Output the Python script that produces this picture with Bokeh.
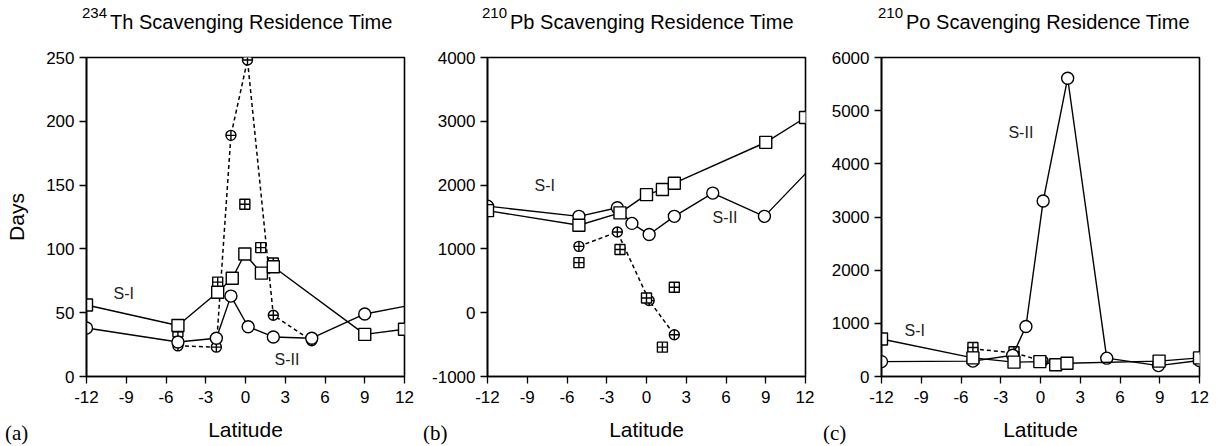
from bokeh.plotting import figure
from bokeh.layouts import row, column
from bokeh.models import FixedTicker, Range1d, Label, Div
from bokeh.embed import file_html
from bokeh.resources import INLINE

lat_ticks = [-12, -9, -6, -3, 0, 3, 6, 9, 12]

# ---- (a) 234Th ----
th_s1_lat = [-12, -5.1, -2.1, -1.0, -0.05, 1.2, 2.1, 9.0, 12]
th_s1 = [56, 40, 66, 77, 96, 81, 86, 33, 37]
th_s2_lat = [-12, -5.1, -2.2, -1.1, 0.2, 2.1, 5.0, 9.0, 12]
th_s2 = [38, 27, 30, 63, 39, 31, 30, 49, 55]
th_dash_lat = [-5.1, -2.2, -1.1, 0.15, 2.1, 5.0]
th_dash = [24, 23, 189, 248, 48, 28]
th_sq_lat = [-5.1, -2.1, -0.05, 1.15, 2.1]
th_sq = [35, 74, 135, 101, 89]
th_yticks = [0, 50, 100, 150, 200, 250]

# ---- (b) 210Pb ----
pb_s1_lat = [-12, -5.1, -2.0, 0.0, 1.2, 2.1, 9.0, 12]
pb_s1 = [1600, 1370, 1565, 1850, 1930, 2030, 2670, 3060]
pb_s2_lat = [-12, -5.1, -2.2, -1.1, 0.2, 2.1, 5.0, 8.9, 12]
pb_s2 = [1670, 1510, 1645, 1400, 1225, 1510, 1875, 1510, 2180]
pb_dash_lat = [-5.1, -2.2, 0.2, 2.1]
pb_dash = [1040, 1265, 190, -345]
pb_sq_lat = [-5.1, -2.0, 0.0, 1.2, 2.1]
pb_sq = [785, 990, 230, -540, 400]
pb_yticks = [-1000, 0, 1000, 2000, 3000, 4000]

# ---- (c) 210Po ----
po_s1_lat = [-12, -5.1, -2.0, -0.05, 1.15, 2.0, 8.95, 12]
po_s1 = [705, 350, 270, 280, 220, 250, 290, 350]
po_s2_lat = [-12, -5.1, -2.1, -1.1, 0.2, 2.05, 5.0, 8.9, 12]
po_s2 = [280, 290, 400, 940, 3300, 5610, 345, 205, 300]
po_dash_lat = [-5.1, -2.0, 0.2]
po_dash = [520, 445, 290]
po_sq_lat = [-5.1, -2.0, 1.2]
po_sq = [545, 465, 240]
po_yticks = [0, 1000, 2000, 3000, 4000, 5000, 6000]

titles = [("234", "Th Scavenging Residence Time"),
          ("210", "Pb Scavenging Residence Time"),
          ("210", "Po Scavenging Residence Time")]
panel_tags = ["(a)", "(b)", "(c)"]

FONT = "Liberation Sans"
TOP_H = 40


def make_panel(yr, yticks, left, right, ylabel):
    p = figure(frame_width=318, frame_height=319,
               min_border_left=left, min_border_right=right,
               min_border_top=57 - TOP_H, min_border_bottom=70,
               x_range=Range1d(-12, 12), y_range=Range1d(*yr),
               output_backend="svg", toolbar_location=None,
               background_fill_color="white", border_fill_color="white")
    p.grid.visible = False
    p.outline_line_color = "black"
    p.outline_line_width = 1.6
    p.outline_line_alpha = 1
    p.xaxis.ticker = FixedTicker(ticks=lat_ticks)
    p.yaxis.ticker = FixedTicker(ticks=yticks)
    p.xaxis.major_label_overrides = {t: str(t) for t in lat_ticks}
    p.yaxis.major_label_overrides = {t: str(t) for t in yticks}
    for ax in (p.xaxis, p.yaxis):
        ax.axis_line_color = "black"
        ax.axis_line_width = 1.6
        ax.major_tick_line_color = "black"
        ax.major_tick_line_width = 1.3
        ax.major_tick_out = 7
        ax.major_tick_in = 0
        ax.minor_tick_line_color = None
        ax.major_label_text_font = FONT
        ax.major_label_text_font_size = "17px"
        ax.major_label_text_color = "black"
        ax.axis_label_text_font = FONT
        ax.axis_label_text_font_style = "normal"
        ax.axis_label_text_font_size = "21px"
        ax.axis_label_text_color = "black"
    p.xaxis.major_label_standoff = 7
    p.yaxis.major_label_standoff = 5
    p.xaxis.axis_label = "Latitude"
    p.xaxis.axis_label_standoff = 12
    if ylabel:
        p.yaxis.axis_label = ylabel
        p.yaxis.axis_label_standoff = 15
    return p


def draw(p, s1x, s1, s2x, s2, dx, dy, qx, qy, s2_marker_all):
    p.line(dx, dy, line_color="black", line_width=1.5, line_dash="4 3")
    p.scatter(dx, dy, marker="circle_cross", size=10, fill_color="white",
              line_color="black", line_width=1.4)
    p.scatter(qx, qy, marker="square_cross", size=10, fill_color="white",
              line_color="black", line_width=1.4)
    p.line(s2x, s2, line_color="black", line_width=1.4)
    n = len(s2x) if s2_marker_all else len(s2x) - 1
    p.scatter(s2x[:n], s2[:n], marker="circle", size=12, fill_color="white",
              line_color="black", line_width=1.4)
    p.line(s1x, s1, line_color="black", line_width=1.4)
    p.scatter(s1x, s1, marker="square", size=12, fill_color="white",
              line_color="black", line_width=1.4)


def txt(p, x, y, text):
    p.add_layout(Label(x=x, y=y, text=text, text_font=FONT,
                       text_font_size="16px", text_color="#222222",
                       text_baseline="middle", text_align="left"))


# panel a
pa = make_panel((0, 250), th_yticks, 86, 10, "Days")
draw(pa, th_s1_lat, th_s1, th_s2_lat, th_s2, th_dash_lat, th_dash,
     th_sq_lat, th_sq, False)
txt(pa, -9.96, 65, "S-I")
txt(pa, 2.19, 13.3, "S-II")

# panel b
pb = make_panel((-1000, 4000), pb_yticks, 73, 9, None)
draw(pb, pb_s1_lat, pb_s1, pb_s2_lat, pb_s2, pb_dash_lat, pb_dash,
     pb_sq_lat, pb_sq, False)
txt(pb, -8.45, 1994, "S-I")
txt(pb, 4.98, 1493, "S-II")

# panel c
pc = make_panel((0, 6000), po_yticks, 67, 20, None)
draw(pc, po_s1_lat, po_s1, po_s2_lat, po_s2, po_dash_lat, po_dash,
     po_sq_lat, po_sq, True)
txt(pc, -2.42, 4594, "S-II")
txt(pc, -10.26, 862, "S-I")

widths = [414, 400, 405]
title_pad = [82, 68, 64]
tag_pad = [5, 9, 9]

title_divs = []
tag_divs = []
for i in range(3):
    sup, main = titles[i]
    html = ('<div style="font-family:\'Liberation Sans\';font-size:20px;'
            'color:black;white-space:nowrap;padding-top:8px;padding-left:%dpx;">'
            '<span style="font-size:15px;position:relative;top:-11px;'
            'margin-right:3px;">%s</span>%s</div>') % (title_pad[i], sup, main)
    title_divs.append(Div(text=html, width=widths[i], height=TOP_H,
                          margin=(0, 0, 0, 0)))
    html2 = ('<div style="font-family:\'Liberation Serif\';font-size:21px;'
             'color:black;white-space:nowrap;padding-top:2px;padding-left:%dpx;">'
             '%s</div>') % (tag_pad[i], panel_tags[i])
    tag_divs.append(Div(text=html2, width=widths[i], height=30,
                        margin=(0, 0, 0, 0)))

top_row = row(*title_divs, spacing=0, margin=(0, 0, 0, 0))
fig_row = row(pa, pb, pc, spacing=0, margin=(0, 0, 0, 0))
tag_row = row(*tag_divs, spacing=0, margin=(-30, 0, 0, 0))
layout = column(top_row, fig_row, tag_row, spacing=0, margin=(0, 0, 0, 0))
open("out.html", "w").write(file_html(layout, INLINE))
